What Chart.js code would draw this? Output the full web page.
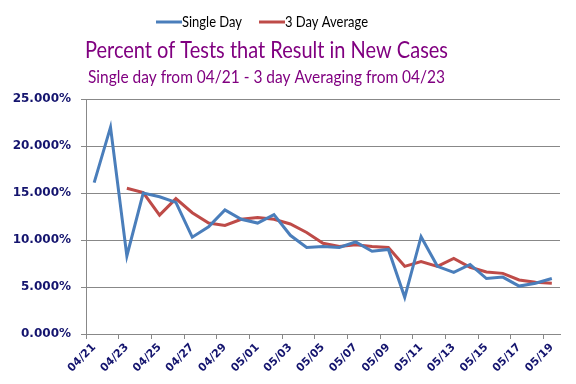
<!DOCTYPE html>
<html>
<head>
<meta charset="utf-8">
<script src="https://cdn.jsdelivr.net/npm/chart.js@4/dist/chart.umd.min.js"></script>
<style>
html,body{margin:0;padding:0;background:#fff;}
#wrap{width:576px;height:384px;position:relative;}
</style>
</head>
<body>
<div id="wrap"><canvas id="c" width="576" height="384"></canvas></div>
<script>
const categories = ["04/21","04/22","04/23","04/24","04/25","04/26","04/27","04/28","04/29","04/30",
  "05/01","05/02","05/03","05/04","05/05","05/06","05/07","05/08","05/09","05/10",
  "05/11","05/12","05/13","05/14","05/15","05/16","05/17","05/18","05/19"];
const singleDay = [16.1,22.0,8.3,15.0,14.6,14.0,10.3,11.4,13.2,12.2,
  11.8,12.7,10.5,9.2,9.3,9.2,9.8,8.8,9.0,3.9,
  10.35,7.2,6.55,7.4,5.9,6.05,5.1,5.4,5.9];
const threeDayAvg = [null,null,15.5,15.05,12.65,14.4,12.9,11.8,11.55,12.2,
  12.4,12.2,11.7,10.8,9.65,9.3,9.5,9.3,9.2,7.2,
  7.7,7.2,8.05,7.1,6.6,6.45,5.75,5.5,5.4];
const yTicks = [0,5,10,15,20,25];
const titleText = "Percent of Tests that Result in New Cases";
const subtitleText = "Single day from 04/21 - 3 day Averaging from 04/23";
const seriesNames = ["Single Day","3 Day Average"];

const BLUE = "#4A7EBB", RED = "#BE4B48", NAVY = "#14146E", PURPLE = "#800080", GRID = "#888888";

// draw text at a given font size, condensed horizontally to a target width
function drawFitted(ctx, text, size, targetW, x, y, align) {
  ctx.font = "normal " + size + "px Lato";
  const w = ctx.measureText(text).width;
  const sx = Math.min(1, targetW / w);
  ctx.save();
  ctx.translate(x, y);
  ctx.scale(sx, 1);
  ctx.textAlign = align;
  ctx.fillText(text, 0, 0);
  ctx.restore();
}

const headerPlugin = {
  id: "header",
  afterDraw(chart) {
    const ctx = chart.ctx;
    ctx.save();
    ctx.textBaseline = "middle";
    ctx.fillStyle = PURPLE;
    drawFitted(ctx, titleText, 23, 363, 266.5, 51, "center");
    drawFitted(ctx, subtitleText, 18, 357, 266.5, 77, "center");
    // legend
    ctx.fillStyle = "#000";
    ctx.lineWidth = 3;
    ctx.strokeStyle = BLUE;
    ctx.beginPath(); ctx.moveTo(156, 22); ctx.lineTo(182, 22); ctx.stroke();
    drawFitted(ctx, seriesNames[0], 15, 60, 182, 22.5, "left");
    ctx.strokeStyle = RED;
    ctx.beginPath(); ctx.moveTo(259, 22); ctx.lineTo(285, 22); ctx.stroke();
    drawFitted(ctx, seriesNames[1], 15, 83, 285, 22.5, "left");
    ctx.restore();
  }
};

new Chart(document.getElementById("c"), {
  type: "line",
  data: {
    labels: categories,
    datasets: [
      { label: seriesNames[0], data: singleDay, borderColor: BLUE, backgroundColor: BLUE,
        borderWidth: 3, pointRadius: 0, tension: 0 },
      { label: seriesNames[1], data: threeDayAvg, borderColor: RED, backgroundColor: RED,
        borderWidth: 3, pointRadius: 0, tension: 0 }
    ]
  },
  options: {
    responsive: false,
    animation: false,
    layout: { padding: { top: 99, right: 16, left: 0, bottom: 0 } },
    plugins: { legend: { display: false }, title: { display: false }, tooltip: { enabled: false } },
    scales: {
      x: {
        type: "category",
        offset: true,
        grid: {
          offset: true,
          drawOnChartArea: false,
          drawTicks: true,
          tickLength: 5,
          color: (c) => (c.index % 2 === 0 ? GRID : "rgba(0,0,0,0)"),
          lineWidth: 1
        },
        border: { display: true, color: GRID, width: 1 },
        ticks: {
          autoSkip: false,
          maxRotation: 45,
          minRotation: 45,
          color: NAVY,
          padding: 2,
          font: { family: "DejaVu Sans", weight: "bold", size: 11 },
          callback: function(v, i) { return i % 2 === 0 ? categories[i] : ""; }
        },
        afterFit: (s) => { s.height = 50; }
      },
      y: {
        min: 0, max: 25,
        afterBuildTicks: (s) => { s.ticks = yTicks.map(v => ({ value: v })); },
        grid: { color: GRID, lineWidth: 1, tickLength: 5, drawTicks: true },
        border: { display: true, color: GRID, width: 1 },
        ticks: {
          color: NAVY,
          padding: 10,
          font: { family: "DejaVu Sans", weight: "bold", size: 12 },
          callback: (v) => v.toFixed(3) + "%"
        },
        afterFit: (s) => { s.width = 86; }
      }
    }
  },
  plugins: [headerPlugin]
});
</script>
</body>
</html>
